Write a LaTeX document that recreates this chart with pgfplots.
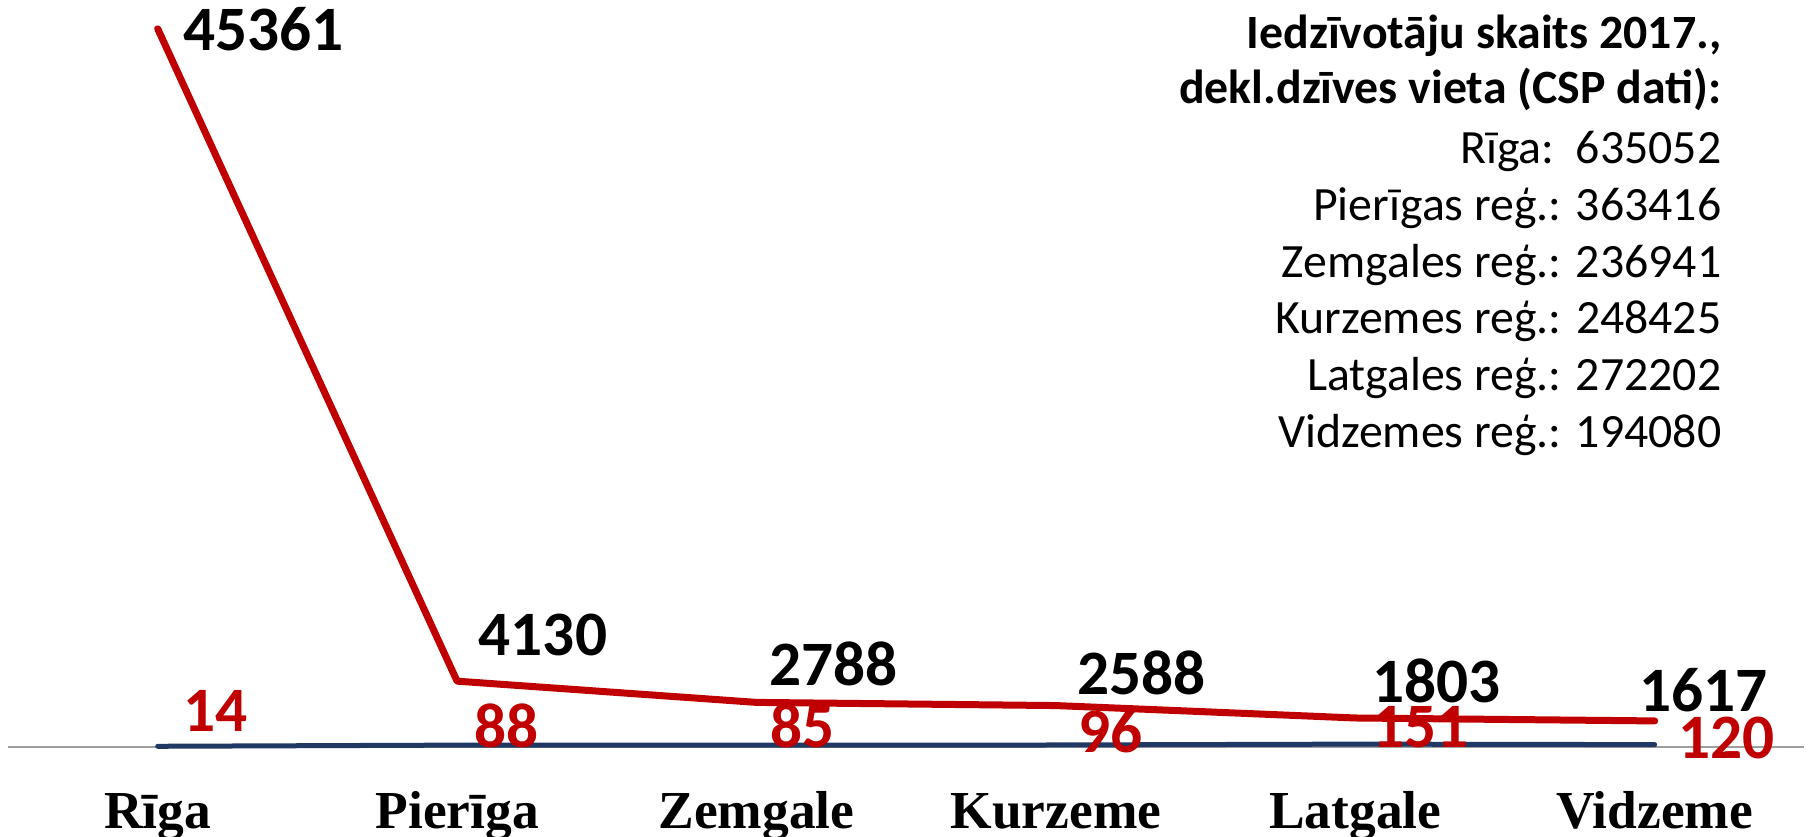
\documentclass[border=0pt]{standalone}
\usepackage{fontspec}
\setmainfont{Liberation Serif}
\newfontfamily\calib{Carlito}
\usepackage{pgfplots}
\pgfplotsset{compat=1.18}
\definecolor{cred}{HTML}{C00000}
\definecolor{cblue}{HTML}{1F3864}
\begin{document}
\begin{tikzpicture}
\useasboundingbox (-0.8mm,-8.95mm) rectangle (180.4mm,74.65mm);
\begin{axis}[
 scale only axis, width=179.64mm, height=74.65mm,
 xmin=-0.5, xmax=5.5, ymin=0, ymax=47180,
 axis y line=none, axis x line*=bottom,
 x axis line style={draw=gray!75, line width=0.2mm, -},
 xtick={0,1,2,3,4,5},
 xticklabels={Rīga,Pierīga,Zemgale,Kurzeme,Latgale,Vidzeme},
 major tick length=0pt,
 xticklabel style={anchor=base, inner sep=0pt, yshift=-8.15mm, font=\fontsize{15.2}{15.2}\selectfont\bfseries},
 clip=false,
]
\addplot[cred, line width=0.7mm, line join=round, line cap=round] coordinates {(0,45361)(1,4130)(2,2788)(3,2588)(4,1803)(5,1617)};
\addplot[cblue, line width=0.5mm, line cap=round] coordinates {(0,14)(1,88)(2,85)(3,96)(4,151)(5,120)};
% data labels, red line (black text)
\node[anchor=west,inner sep=0pt,xshift=2.5mm,yshift=0mm,font=\calib\bfseries\fontsize{18}{18}\selectfont] at (axis cs:0,45361) {45361};
\node[anchor=west,inner sep=0pt,xshift=2.1mm,yshift=4.6mm,font=\calib\bfseries\fontsize{18}{18}\selectfont] at (axis cs:1,4130) {4130};
\node[anchor=west,inner sep=0pt,xshift=1.2mm,yshift=3.9mm,font=\calib\bfseries\fontsize{18}{18}\selectfont] at (axis cs:2,2788) {2788};
\node[anchor=west,inner sep=0pt,xshift=2.1mm,yshift=3.3mm,font=\calib\bfseries\fontsize{18}{18}\selectfont] at (axis cs:3,2588) {2588};
\node[anchor=west,inner sep=0pt,xshift=1.6mm,yshift=3.7mm,font=\calib\bfseries\fontsize{18}{18}\selectfont] at (axis cs:4,1803) {1803};
\node[anchor=west,inner sep=0pt,xshift=-1.6mm,yshift=3.1mm,font=\calib\bfseries\fontsize{18}{18}\selectfont] at (axis cs:5,1617) {1617};
% data labels, blue line (red text)
\node[anchor=west,inner sep=0pt,xshift=2.5mm,yshift=3.5mm,text=cred,font=\calib\bfseries\fontsize{18}{18}\selectfont] at (axis cs:0,14) {14};
\node[anchor=west,inner sep=0pt,xshift=1.7mm,yshift=1.9mm,text=cred,font=\calib\bfseries\fontsize{18}{18}\selectfont] at (axis cs:1,88) {88};
\node[anchor=west,inner sep=0pt,xshift=1.3mm,yshift=1.9mm,text=cred,font=\calib\bfseries\fontsize{18}{18}\selectfont] at (axis cs:2,85) {85};
\node[anchor=west,inner sep=0pt,xshift=2.2mm,yshift=1.4mm,text=cred,font=\calib\bfseries\fontsize{18}{18}\selectfont] at (axis cs:3,96) {96};
\node[anchor=west,inner sep=0pt,xshift=1.6mm,yshift=1.7mm,text=cred,font=\calib\bfseries\fontsize{18}{18}\selectfont] at (axis cs:4,151) {151};
\node[anchor=west,inner sep=0pt,xshift=2.3mm,yshift=0.7mm,text=cred,font=\calib\bfseries\fontsize{18}{18}\selectfont] at (axis cs:5,120) {120};
\end{axis}
\begin{scope}[every node/.style={anchor=base east,inner sep=0pt,font=\calib\fontsize{13.6}{16}\selectfont}]
\node at (171.4mm,69.85mm) {\bfseries Iedzīvotāju skaits 2017.,};
\node at (171.4mm,64.35mm) {\bfseries dekl.dzīves vieta (CSP dati):};
\node at (171.4mm,58.35mm) {Rīga:\ \ 635052};
\node at (171.4mm,52.65mm) {Pierīgas reģ.: 363416};
\node at (171.4mm,46.95mm) {Zemgales reģ.: 236941};
\node at (171.4mm,41.35mm) {Kurzemes reģ.: 248425};
\node at (171.4mm,35.65mm) {Latgales reģ.: 272202};
\node at (171.4mm,29.95mm) {Vidzemes reģ.: 194080};
\end{scope}
\end{tikzpicture}
\end{document}
